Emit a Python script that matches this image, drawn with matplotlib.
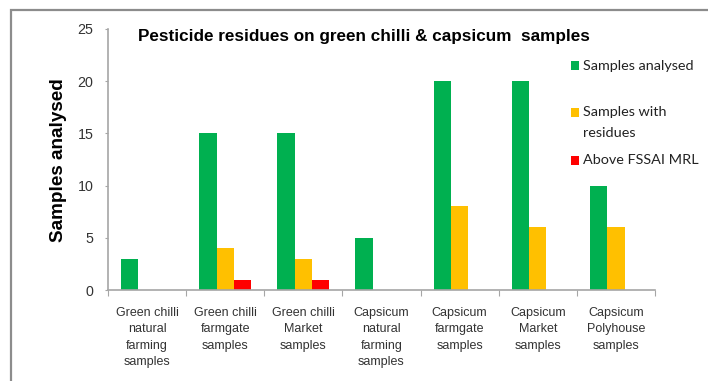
import matplotlib
matplotlib.use("Agg")
import matplotlib.pyplot as plt
from matplotlib.patches import Rectangle
import numpy as np

categories = [
    "Green chilli\nnatural\nfarming\nsamples",
    "Green chilli\nfarmgate\nsamples",
    "Green chilli\nMarket\nsamples",
    "Capsicum\nnatural\nfarming\nsamples",
    "Capsicum\nfarmgate\nsamples",
    "Capsicum\nMarket\nsamples",
    "Capsicum\nPolyhouse\nsamples",
]
samples_analysed = [3, 15, 15, 5, 20, 20, 10]
samples_with_residues = [0, 4, 3, 0, 8, 6, 6]
above_fssai_mrl = [0, 1, 1, 0, 0, 0, 0]

series_names = ["Samples analysed", "Samples with\nresidues", "Above FSSAI MRL"]
series_colors = ["#00B050", "#FFC000", "#FF0000"]
yticks = [0, 5, 10, 15, 20, 25]

W, H = 708, 381
fig = plt.figure(figsize=(W / 100, H / 100), dpi=100)
fig.patch.set_facecolor("white")

# outer chart frame
fig.patches.append(Rectangle((10.5 / W, -0.05), 1.2, 1 - 9.5 / H + 0.05,
                             transform=fig.transFigure, fill=False,
                             edgecolor="#8C8C8C", linewidth=1.6))

ax = fig.add_axes([108 / W, 1 - 290 / H, (655 - 108) / W, (290 - 29) / H])

x = np.arange(len(categories))
bw = 0.222
series = [samples_analysed, samples_with_residues, above_fssai_mrl]
for i, (vals, col) in enumerate(zip(series, series_colors)):
    ax.bar(x + (i - 1) * bw, vals, width=bw, color=col, linewidth=0)

ax.set_xlim(-0.5, len(categories) - 0.5)
ax.set_ylim(0, 25)
ax.set_yticks(yticks)
ax.set_yticklabels([str(v) for v in yticks], fontsize=10.3, color="#333333",
                   family="Liberation Sans")

# category boundary ticks on the x-axis
ax.set_xticks(np.arange(-0.5, len(categories), 1.0))
ax.set_xticklabels([])
ax.tick_params(axis="x", length=4, color="#A6A6A6", direction="out")
ax.tick_params(axis="y", length=2.5, color="#A6A6A6", direction="out", pad=8)
for j, lab in enumerate(categories):
    ax.annotate(lab, xy=(j, 0), xycoords=("data", "axes fraction"),
                xytext=(0, -17), textcoords="offset pixels",
                ha="center", va="top", fontsize=9.0, color="#333333",
                family="Liberation Sans", linespacing=1.48)

for s in ["top", "right"]:
    ax.spines[s].set_visible(False)
for s in ["left", "bottom"]:
    ax.spines[s].set_color("#A6A6A6")
    ax.spines[s].set_linewidth(1.2)

fig.text(58.5 / W, 1 - 160 / H, "Samples analysed", rotation=90,
         fontsize=13.6, fontweight="bold", family="Liberation Sans",
         ha="center", va="center")

fig.text(138 / W, 1 - 36 / H, "Pesticide residues on green chilli & capsicum  samples",
         fontsize=12.3, fontweight="bold", family="Liberation Sans",
         ha="left", va="center")

# legend: a square marker and text lines for each series
leg_y = [65.5, 112.5, 160]
line_gap = 20.6
for name, col, yy in zip(series_names, series_colors, leg_y):
    fig.patches.append(Rectangle((571 / W, 1 - (yy + 4.5) / H), 8 / W, 9 / H,
                                 transform=fig.transFigure, facecolor=col,
                                 edgecolor="none"))
    for k, line in enumerate(name.split("\n")):
        fig.text(583 / W, 1 - (yy + k * line_gap) / H, line, fontsize=10.4,
                 family="Lato", color="#222222", ha="left", va="center")

fig.savefig("out.png", dpi=100)
